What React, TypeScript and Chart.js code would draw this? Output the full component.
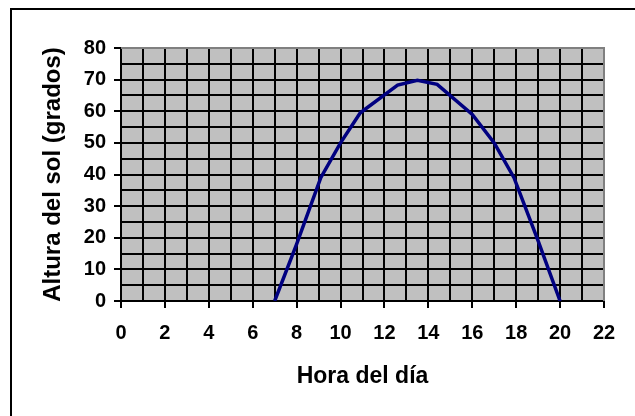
import React, { useEffect, useRef } from "react";
import { Chart, registerables } from "chart.js";

Chart.register(...registerables);

const hours = [7, 8, 9.1, 10, 10.9, 12.6, 13.5, 14.4, 16, 17, 17.9, 19, 20];
const altitude = [0, 18, 39, 50, 59.5, 68.3, 69.8, 68.5, 59, 50, 39, 19, 0];
const xTitle = "Hora del día";
const yTitle = "Altura del sol (grados)";

const framePlugin = {
  id: "frame",
  beforeDraw(chart: any) {
    const { ctx, chartArea: a } = chart;
    ctx.save();
    ctx.fillStyle = "#ffffff";
    ctx.fillRect(0, 0, chart.width, chart.height);
    ctx.fillStyle = "#000000";
    ctx.fillRect(10, 8, chart.width, 2);
    ctx.fillRect(10, 8, 2, chart.height);
    ctx.fillStyle = "#C0C0C0";
    ctx.fillRect(a.left, a.top, a.right - a.left, a.bottom - a.top);
    ctx.restore();
  },
  beforeDatasetsDraw(chart: any) {
    const { ctx, chartArea: a } = chart;
    ctx.save();
    ctx.strokeStyle = "#808080";
    ctx.lineWidth = 2;
    ctx.beginPath();
    ctx.moveTo(a.left, a.top);
    ctx.lineTo(a.right, a.top);
    ctx.lineTo(a.right, a.bottom);
    ctx.stroke();
    ctx.restore();
  },
};

export default function App() {
  const ref = useRef<HTMLCanvasElement>(null);
  useEffect(() => {
    const font = "'Liberation Sans', Arial, sans-serif";
    const chart = new Chart(ref.current as HTMLCanvasElement, {
      type: "line",
      data: {
        datasets: [
          {
            data: hours.map((h, i) => ({ x: h, y: altitude[i] })),
            borderColor: "#000080",
            borderWidth: 3.5,
            pointRadius: 0,
            tension: 0,
            fill: false,
          },
        ],
      },
      options: {
        animation: false,
        responsive: false,
        devicePixelRatio: 1,
        layout: { padding: { top: 48, right: 31, left: 0, bottom: 0 } },
        plugins: { legend: { display: false }, tooltip: { enabled: false } },
        scales: {
          x: {
            type: "linear",
            min: 0,
            max: 22,
            afterFit: (s: any) => {
              s.height = 115;
            },
            ticks: {
              stepSize: 1,
              autoSkip: false,
              maxRotation: 0,
              color: "#000",
              padding: 13,
              font: { family: font, size: 20, weight: "bold" },
              callback: (v: any) => (v % 2 === 0 ? String(v) : ""),
            },
            grid: {
              color: (c: any) => (c.tick && c.tick.value === 22 ? "#808080" : "#000"),
              lineWidth: 2,
              tickLength: 7,
              tickColor: (c: any) => (c.tick && c.tick.value % 2 === 0 ? "#000" : "rgba(0,0,0,0)"),
              tickWidth: 2,
            },
            border: { display: true, color: "#000", width: 2 },
            title: {
              display: true,
              text: xTitle,
              color: "#000",
              font: { family: font, size: 23, weight: "bold" },
              padding: { top: 0, bottom: 26 },
            },
          },
          y: {
            min: 0,
            max: 80,
            afterFit: (s: any) => {
              s.width = 121;
            },
            ticks: {
              stepSize: 5,
              autoSkip: false,
              color: "#000",
              padding: 8,
              font: { family: font, size: 20, weight: "bold" },
              callback: (v: any) => (v % 10 === 0 ? String(v) : ""),
            },
            grid: {
              color: (c: any) => (c.tick && c.tick.value === 80 ? "#808080" : "#000"),
              lineWidth: 2,
              tickLength: 7,
              tickColor: (c: any) => (c.tick && c.tick.value % 10 === 0 ? "#000" : "rgba(0,0,0,0)"),
              tickWidth: 2,
            },
            border: { display: true, color: "#000", width: 2 },
            title: {
              display: true,
              text: yTitle,
              color: "#000",
              font: { family: font, size: 24, weight: "bold" },
              padding: { top: 39, bottom: 0 },
            },
          },
        },
      },
      plugins: [framePlugin],
    } as any);
    return () => chart.destroy();
  }, []);
  return (
    <div style={{ position: "fixed", left: 0, top: 0, width: 635, height: 416 }}>
      <canvas ref={ref} width={635} height={416} style={{ display: "block", width: 635, height: 416 }} />
    </div>
  );
}
